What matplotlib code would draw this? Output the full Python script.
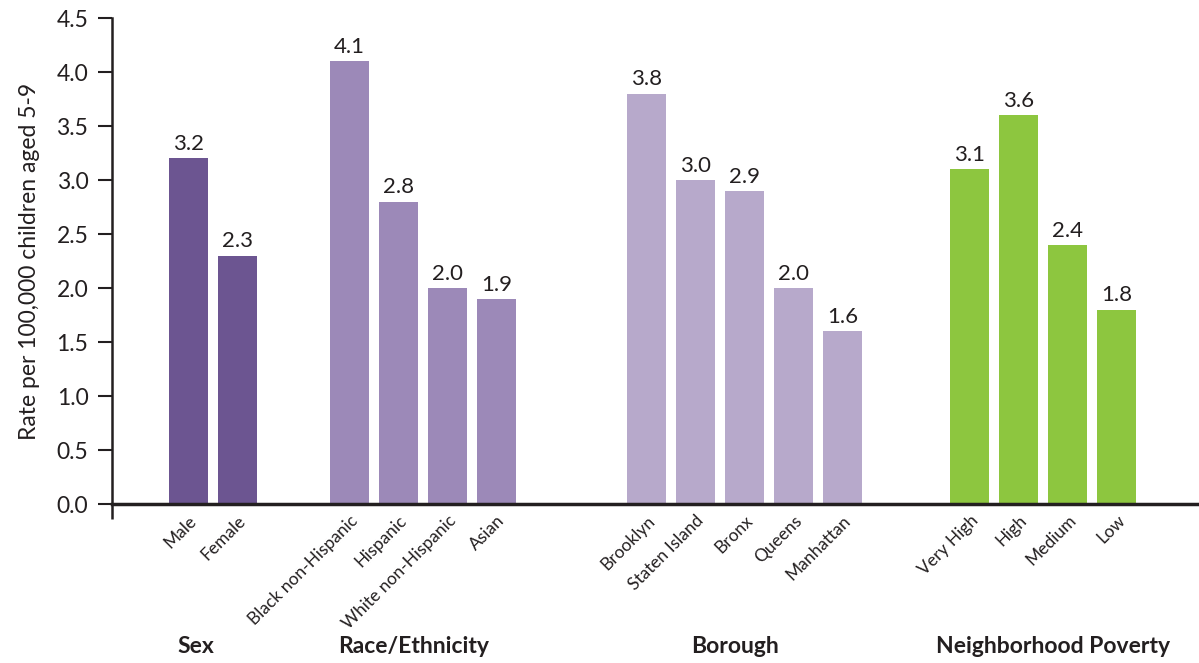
import numpy as np
import matplotlib.pyplot as plt

plt.rcParams['font.family'] = ['Lato', 'DejaVu Sans']

# data
groups = ['Sex', 'Race/Ethnicity', 'Borough', 'Neighborhood Poverty']
categories = [
    ['Male', 'Female'],
    ['Black non-Hispanic', 'Hispanic', 'White non-Hispanic', 'Asian'],
    ['Brooklyn', 'Staten Island', 'Bronx', 'Queens', 'Manhattan'],
    ['Very High', 'High', 'Medium', 'Low'],
]
rates = [
    [3.2, 2.3],
    [4.1, 2.8, 2.0, 1.9],
    [3.8, 3.0, 2.9, 2.0, 1.6],
    [3.1, 3.6, 2.4, 1.8],
]
colors = ['#6c5591', '#9c89b8', '#b7a9cb', '#8dc63f']

# layout: where each group starts (in bar-slot units from the y axis)
group_start = [1.56, 4.85, 10.91, 17.50]
title_shift = [-0.35, -0.2, -0.2, 0.2]
dark = '#231f20'

fig = plt.figure(figsize=(11.99, 6.63), dpi=100)
ax = fig.add_axes([0.0934, 0.2398, 0.9066, 0.7330])

tick_pos = []
tick_lab = []
for g, (cats, vals, col, start) in enumerate(zip(categories, rates, colors, group_start)):
    x = start + np.arange(len(cats))
    bars = ax.bar(x, vals, width=0.8, color=col)
    for b, v in zip(bars, vals):
        ax.text(b.get_x() + b.get_width() / 2, v + 0.04, f'{v:.1f}',
                ha='center', va='bottom', fontsize=16, color=dark)
    tick_pos.extend(x)
    tick_lab.extend(cats)
    ax.text(x.mean() + title_shift[g], -1.32, groups[g], ha='center', va='center',
            fontsize=16.5, fontweight='bold', color=dark)

ax.set_xlim(0, 22.18)
ax.set_ylim(0, 4.5)
ax.set_yticks(np.arange(0, 4.51, 0.5))
ax.set_yticklabels([f'{v:.1f}' for v in np.arange(0, 4.51, 0.5)])
ax.set_xticks(tick_pos)
ax.set_xticklabels(tick_lab, rotation=45, ha='right', rotation_mode='anchor',
                   fontsize=12.5, color=dark)
ax.set_xticks([0], minor=True)
ax.tick_params(axis='x', which='major', length=0, pad=6)
ax.tick_params(axis='x', which='minor', length=11, width=1.8, color=dark)
ax.tick_params(axis='y', length=10, width=1.5, color=dark, labelsize=16.5,
               labelcolor=dark, pad=7)

ax.set_ylabel('Rate per 100,000 children aged 5-9', fontsize=16.5, color=dark, labelpad=12)

for s in ['top', 'right']:
    ax.spines[s].set_visible(False)
ax.spines['left'].set_linewidth(1.8)
ax.spines['left'].set_color(dark)
ax.spines['bottom'].set_linewidth(2.5)
ax.spines['bottom'].set_color(dark)

fig.savefig('out.png', dpi=100)
